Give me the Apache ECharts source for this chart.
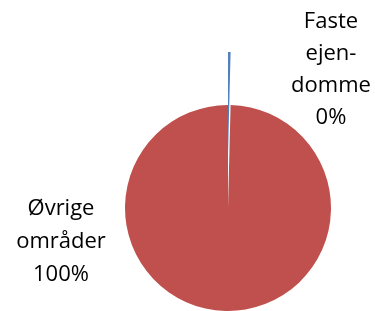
<!DOCTYPE html>
<html lang="da">
<head>
    <meta charset="UTF-8">
    <title>Pie</title>
    <script src="https://cdn.jsdelivr.net/npm/echarts@6/dist/echarts.min.js"></script>
    <style>
        *{ margin: 0; padding: 0; }
        body{ background-color: #fff; overflow: hidden; }
        #main{ width: 375px; height: 311px; }
    </style>
</head>
<body>
<div id="main"></div>
<script>
    // data
    var categories = ['Faste ejendomme', 'Øvrige områder'];
    var labelText = ['Faste\nejen-\ndomme', 'Øvrige\nområder'];
    var values = [0.4, 99.6];
    var colors = ['#4F81BD', '#C0504D'];

    var labelPos = [
        {x: 331, y: 70},
        {x: 61, y: 242}
    ];
    var labelLineHeight = [32, 33];

    // the first slice is pulled out of the pie (exploded)
    var explodeIndex = 0;
    var explodeOffset = 53;

    var myChart = echarts.init(document.getElementById('main'));

    var baseData = [];
    var explodedData = [];
    for (var i = 0; i < categories.length; i++) {
        baseData.push({
            name: categories[i],
            value: values[i],
            label: {lineHeight: labelLineHeight[i]},
            itemStyle: {color: i === explodeIndex ? 'rgba(0,0,0,0)' : colors[i]}
        });
        explodedData.push({
            name: categories[i],
            value: values[i],
            itemStyle: {color: i === explodeIndex ? colors[i] : 'rgba(0,0,0,0)'}
        });
    }

    var option = {
        animation: false,
        series: [
            {
                type: 'pie',
                center: [228, 208],
                radius: [0, 103],
                startAngle: 90,
                clockwise: true,
                avoidLabelOverlap: false,
                itemStyle: {borderWidth: 0},
                label: {
                    show: true,
                    position: 'outside',
                    color: '#000',
                    fontFamily: 'Open Sans',
                    fontSize: 22,
                    formatter: function (p) {
                        return labelText[p.dataIndex] + '\n' + Math.round(p.percent) + '%';
                    }
                },
                labelLine: {show: false},
                labelLayout: function (params) {
                    var p = labelPos[params.dataIndex];
                    return {x: p.x, y: p.y, align: 'center', verticalAlign: 'middle'};
                },
                emphasis: {disabled: true},
                data: baseData
            },
            {
                type: 'pie',
                center: [228, 208 - explodeOffset],
                radius: [0, 103],
                startAngle: 90,
                clockwise: true,
                silent: true,
                itemStyle: {borderWidth: 0},
                label: {show: false},
                labelLine: {show: false},
                emphasis: {disabled: true},
                data: explodedData
            }
        ]
    };
    myChart.setOption(option);
</script>
</body>
</html>
